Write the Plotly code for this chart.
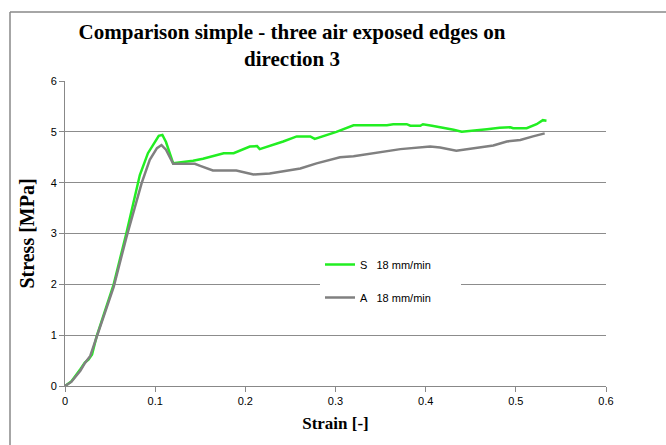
import plotly.graph_objects as go

# Series S 18 mm/min (green)
s_strain = [0, 0.007, 0.017, 0.022, 0.026, 0.030, 0.035, 0.045, 0.054, 0.068, 0.083, 0.092,
            0.100, 0.104, 0.108, 0.112, 0.120, 0.142, 0.153, 0.165, 0.176, 0.187, 0.205,
            0.213, 0.216, 0.242, 0.257, 0.272, 0.277, 0.301, 0.320, 0.357, 0.364, 0.379,
            0.383, 0.394, 0.397, 0.407, 0.420, 0.431, 0.440, 0.453, 0.468, 0.482, 0.494,
            0.497, 0.512, 0.523, 0.530, 0.534]
s_stress = [0, 0.09, 0.33, 0.46, 0.52, 0.62, 0.97, 1.5, 2.0, 3.0, 4.15, 4.58,
            4.80, 4.92, 4.94, 4.80, 4.38, 4.43, 4.47, 4.52, 4.58, 4.58, 4.71,
            4.72, 4.66, 4.81, 4.91, 4.91, 4.86, 5.0, 5.13, 5.13, 5.15, 5.15,
            5.12, 5.12, 5.15, 5.12, 5.08, 5.04, 5.0, 5.02, 5.05, 5.08, 5.09,
            5.07, 5.07, 5.15, 5.23, 5.22]

# Series A 18 mm/min (gray)
a_strain = [0, 0.007, 0.017, 0.022, 0.028, 0.035, 0.045, 0.054, 0.068, 0.085, 0.094, 0.102,
            0.107, 0.112, 0.120, 0.137, 0.144, 0.150, 0.164, 0.190, 0.209, 0.227, 0.246,
            0.261, 0.279, 0.305, 0.320, 0.372, 0.405, 0.416, 0.434, 0.457, 0.475, 0.490,
            0.505, 0.519, 0.532]
a_stress = [0, 0.08, 0.30, 0.45, 0.59, 0.95, 1.45, 1.95, 2.92, 3.99, 4.45, 4.68,
            4.74, 4.65, 4.37, 4.37, 4.37, 4.33, 4.24, 4.24, 4.16, 4.18, 4.24,
            4.28, 4.38, 4.50, 4.52, 4.66, 4.71, 4.69, 4.63, 4.69, 4.73, 4.81,
            4.84, 4.91, 4.97]

series_names = ["S\u00a0\u00a0\u00a018\u00a0mm/min" + "\u00a0" * 8,
                "A\u00a0\u00a0\u00a018\u00a0mm/min" + "\u00a0" * 8]
x_ticks = [0, 0.1, 0.2, 0.3, 0.4, 0.5, 0.6]
x_tick_labels = ["0", "0.1", "0.2", "0.3", "0.4", "0.5", "0.6"]
y_ticks = [0, 1, 2, 3, 4, 5, 6]

fig = go.Figure()
fig.add_trace(go.Scatter(x=s_strain, y=s_stress, mode="lines", name=series_names[0],
                         legendgroup="s", line=dict(color="#22ee22", width=2.5)))
fig.add_trace(go.Scatter(x=a_strain, y=a_stress, mode="lines", name=series_names[1],
                         legendgroup="a", line=dict(color="#808080", width=2.5)))

L, R, T, B = 65, 60, 81, 59
W, H = 666, 445
pw, ph = W - L - R, H - T - B

def px_x(p):
    return (p - L) / pw

def px_y(p):
    return (H - B - p) / ph

fig.update_layout(
    width=W, height=H,
    margin=dict(l=L, r=R, t=T, b=B, autoexpand=False),
    paper_bgcolor="white", plot_bgcolor="white",
    title=dict(text="Comparison simple - three air exposed edges on<br>direction 3",
               x=292 / W, xanchor="center", xref="container",
               y=1 - 39 / H, yanchor="top", yref="container",
               font=dict(family="Liberation Serif", size=21, color="black", weight="bold")),
    xaxis=dict(range=[0, 0.6], tickvals=x_ticks, ticktext=x_tick_labels,
               showgrid=False, zeroline=False, showline=True, linecolor="#888888", linewidth=1,
               ticks="outside", ticklen=5, tickcolor="#888888",
               tickfont=dict(family="Liberation Sans", size=11, color="black"),
               title=dict(text="Strain [-]", standoff=10,
                          font=dict(family="Liberation Serif", size=17, color="black", weight="bold"))),
    yaxis=dict(range=[0, 6], tickvals=y_ticks,
               showgrid=True, gridcolor="#8c8c8c", gridwidth=1, zeroline=False,
               showline=True, linecolor="#888888", linewidth=1,
               ticks="outside", ticklen=5, tickcolor="#888888",
               tickfont=dict(family="Liberation Sans", size=11, color="black"),
               title=dict(text="Stress [MPa]", standoff=10,
                          font=dict(family="Liberation Serif", size=20, color="black", weight="bold"))),
    legend=dict(x=px_x(320), y=px_y(250), xanchor="left", yanchor="top",
                bgcolor="white", borderwidth=0, traceorder="grouped", tracegroupgap=14,
                font=dict(family="Liberation Sans", size=11, color="black"),
                itemwidth=30),
    showlegend=True,
    shapes=[
        dict(type="line", xref="paper", yref="paper", x0=px_x(10), x1=px_x(700),
             y0=px_y(12), y1=px_y(12), line=dict(color="#888888", width=1.5)),
        dict(type="line", xref="paper", yref="paper", x0=px_x(10), x1=px_x(10),
             y0=px_y(12), y1=px_y(460), line=dict(color="#888888", width=1.5)),
    ],
)

fig.write_html("out.html")
